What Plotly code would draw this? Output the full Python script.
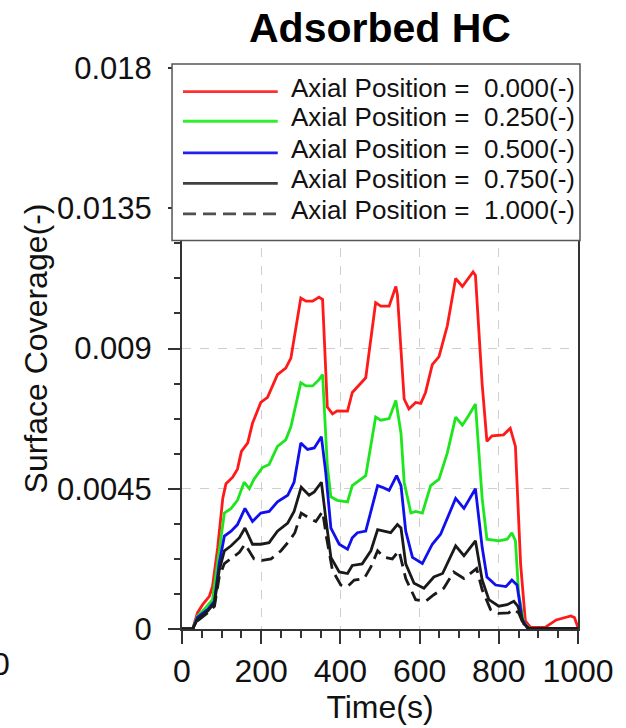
import plotly.graph_objects as go

# ---------------- data ----------------
t_red = [0, 27, 39, 52, 69, 77, 90, 103, 111, 128, 140, 150, 166, 178, 199, 216, 241, 262, 275,
         300, 313, 330, 346, 355, 367, 380, 392, 418, 430, 447, 464, 489, 502, 523, 540, 544,
         561, 573, 590, 603, 615, 632, 649, 670, 691, 708, 724, 735, 741, 758, 770, 783, 812,
         829, 842, 855, 867, 880, 917, 945, 982, 991, 1000]
v_red = [0, 0, 0.00052, 0.00078, 0.00105, 0.00136, 0.0026, 0.0042, 0.00466, 0.00487, 0.00513,
         0.0057, 0.00597, 0.0066, 0.00727, 0.00743, 0.00816, 0.00837, 0.00869, 0.01062, 0.01052,
         0.01052, 0.01065, 0.01057, 0.00712, 0.0069, 0.0070, 0.00699, 0.00759, 0.00783, 0.00806,
         0.01047, 0.01036, 0.01036, 0.01099, 0.01073, 0.00738, 0.00706, 0.00727, 0.00724,
         0.00759, 0.00848, 0.00874, 0.00973, 0.01125, 0.01099, 0.01125, 0.01146, 0.01135,
         0.00785, 0.00602, 0.0062, 0.00623, 0.00644, 0.00586, 0.0021, 0.00026, 0.00005,
         0.00005, 0.00029, 0.00042, 0.00037, 0.00005]

t_green = [0, 27, 39, 56, 77, 94, 107, 124, 140, 157, 170, 182, 203, 220, 241, 262, 275, 300,
           313, 330, 346, 355, 367, 376, 392, 418, 430, 447, 464, 489, 502, 523, 540, 553, 561,
           578, 590, 607, 628, 649, 670, 691, 708, 724, 741, 758, 770, 800, 821, 833, 842, 850,
           863, 876, 1000]
v_green = [0, 0, 0.00042, 0.00063, 0.00094, 0.0026, 0.00372, 0.00387, 0.00413, 0.00471, 0.0045,
           0.00481, 0.00518, 0.00528, 0.00586, 0.00607, 0.00649, 0.0079, 0.0078, 0.0078, 0.0080,
           0.00816, 0.00523, 0.00424, 0.00413, 0.00408, 0.0046, 0.00476, 0.00492, 0.0068,
           0.0067, 0.00675, 0.00733, 0.00628, 0.00471, 0.00372, 0.00377, 0.00372, 0.0046,
           0.00481, 0.00565, 0.0068, 0.00654, 0.00685, 0.00722, 0.00419, 0.00288, 0.00283,
           0.00288, 0.00309, 0.00283, 0.00115, 0.00021, 0.00003, 0.00001]

t_blue = [0, 27, 39, 65, 82, 94, 107, 124, 140, 159, 178, 199, 220, 241, 267, 283, 300, 317,
          334, 352, 363, 376, 397, 418, 430, 443, 464, 477, 494, 506, 523, 542, 553, 565, 582,
          607, 632, 653, 691, 712, 741, 758, 770, 792, 818, 833, 846, 859, 872, 1000]
v_blue = [0, 0, 0.00037, 0.00063, 0.00089, 0.0021, 0.00298, 0.00314, 0.00335, 0.00387, 0.00345,
          0.00372, 0.00377, 0.00408, 0.00429, 0.00471, 0.00597, 0.00576, 0.00581, 0.00617,
          0.00502, 0.00324, 0.00272, 0.00256, 0.00293, 0.00309, 0.00314, 0.00377, 0.0046,
          0.00455, 0.00445, 0.00492, 0.0046, 0.00314, 0.0023, 0.0021, 0.00272, 0.00304,
          0.00419, 0.00387, 0.0045, 0.00262, 0.00167, 0.00141, 0.00136, 0.00157, 0.00141,
          0.00031, 0.00003, 0.00001]

t_black = [0, 27, 39, 65, 82, 94, 107, 124, 145, 159, 178, 199, 220, 241, 267, 283, 301, 321,
           334, 352, 363, 376, 397, 418, 430, 455, 477, 494, 510, 527, 544, 553, 565, 586, 611,
           636, 658, 691, 712, 741, 758, 775, 800, 821, 838, 848, 863, 876, 1000]
v_black = [0, 0, 0.00031, 0.00058, 0.00084, 0.00188, 0.00251, 0.00267, 0.00293, 0.00324,
           0.00272, 0.00272, 0.00277, 0.00314, 0.0034, 0.00377, 0.00455, 0.00429, 0.0044,
           0.00471, 0.00356, 0.0023, 0.00183, 0.00178, 0.00204, 0.00209, 0.00251, 0.00319,
           0.00314, 0.00309, 0.00335, 0.00324, 0.00209, 0.00147, 0.00131, 0.00167, 0.00178,
           0.00267, 0.00235, 0.00283, 0.00157, 0.00094, 0.00073, 0.00078, 0.00089, 0.00073,
           0.00016, 0.00003, 0.00001]

t_dash = [0, 27, 39, 65, 82, 94, 107, 124, 145, 159, 182, 203, 225, 250, 271, 285, 301, 321,
          338, 355, 365, 380, 401, 418, 435, 460, 477, 494, 510, 531, 548, 565, 590, 615, 636,
          661, 686, 712, 744, 758, 779, 800, 825, 838, 850, 863, 876, 1000]
v_dash = [0, 0, 0.00026, 0.00052, 0.00073, 0.00167, 0.0021, 0.00225, 0.00246, 0.00272, 0.00225,
          0.0022, 0.00225, 0.00251, 0.00283, 0.00309, 0.00372, 0.00356, 0.00345, 0.00377,
          0.00293, 0.00188, 0.00141, 0.00136, 0.00157, 0.00162, 0.00199, 0.00251, 0.0023,
          0.00225, 0.00251, 0.00162, 0.00094, 0.00089, 0.0011, 0.00131, 0.00183, 0.00162,
          0.00194, 0.00126, 0.00063, 0.0005, 0.00052, 0.00063, 0.00052, 0.00013, 0.00002,
          0.00001]

series_names = ["Axial Position = \u00a00.000(-)", "Axial Position = \u00a00.250(-)",
                "Axial Position = \u00a00.500(-)", "Axial Position = \u00a00.750(-)",
                "Axial Position = \u00a01.000(-)"]
series_t = [t_red, t_green, t_blue, t_black, t_dash]
series_v = [v_red, v_green, v_blue, v_black, v_dash]
series_colors = ["#ff1a1a", "#1ee61e", "#1010ee", "#1a1a1a", "#1a1a1a"]
series_dash = ["solid", "solid", "solid", "solid", "13px,7px"]

y_tickvals = [0, 0.0045, 0.009, 0.0135, 0.018]
y_ticktext = ["0", "0.0045", "0.009", "0.0135", "0.018"]
x_tickvals = [0, 200, 400, 600, 800, 1000]

FONT = "Liberation Sans, Arial, Helvetica, sans-serif"

# ---------------- figure ----------------
fig = go.Figure()
for name, t, v, c, d in zip(series_names, series_t, series_v, series_colors, series_dash):
    fig.add_trace(go.Scatter(x=t, y=v, mode="lines", name=name,
                             line=dict(color=c, width=2.8, dash=d), showlegend=False))

W, H = 626, 728
ml, mr, mt, mb = 182, 47, 68, 91
pw, ph = W - ml - mr, H - mt - mb


def px(xpix):
    return (xpix - ml) / pw


def py(ypix):
    return (H - mb - ypix) / ph


fig.update_layout(
    width=W, height=H,
    margin=dict(l=ml, r=mr, t=mt, b=mb),
    paper_bgcolor="white", plot_bgcolor="white",
    font=dict(family=FONT, color="#111", size=31),
    title=dict(text="<b>Adsorbed HC</b>", x=0.5, xref="paper", xanchor="center",
               y=1 - 28 / H, yanchor="middle", font=dict(size=41, color="#000")),
    showlegend=False,
)

fig.update_xaxes(
    range=[0, 1000], tickvals=x_tickvals, ticks="outside", ticklen=13, tickwidth=1.5,
    tickcolor="#333", showline=True, linecolor="#333", linewidth=2, mirror=True,
    showgrid=True, gridcolor="#cfcfcf", griddash="dash", gridwidth=1, zeroline=False,
    minor=dict(dtick=50, ticks="outside", ticklen=7, tickcolor="#333", showgrid=False),
    tickfont=dict(size=32), title=dict(text="Time(s)", font=dict(size=32), standoff=4),
)
fig.update_yaxes(
    range=[0, 0.018], tickvals=y_tickvals, ticktext=y_ticktext, ticks="outside", ticklen=12,
    tickwidth=1.5, tickcolor="#333", showline=True, linecolor="#333", linewidth=2, mirror=True,
    showgrid=True, gridcolor="#cfcfcf", griddash="dash", gridwidth=1, zeroline=False,
    minor=dict(dtick=0.001125, ticks="outside", ticklen=6, tickcolor="#333", showgrid=False),
    tickfont=dict(size=31), ticklabelstandoff=10,
    title=dict(text="Surface Coverage(-)", font=dict(size=32), standoff=0),
)

# ---------------- legend box (drawn) ----------------
fig.add_shape(type="rect", xref="paper", yref="paper",
              x0=px(172), x1=px(581), y0=py(243), y1=py(64),
              fillcolor="white", line=dict(color="#555", width=1.5), layer="above")
text_rows = [88, 118, 150, 181, 212]
legend_line_colors = ["#ff3030", "#30ee30", "#2020f0", "#404040", "#505050"]
for name, c, d, row in zip(series_names, legend_line_colors, series_dash, text_rows):
    fig.add_shape(type="line", xref="paper", yref="paper",
                  x0=px(183), x1=px(278), y0=py(row + 4), y1=py(row + 4),
                  line=dict(color=c, width=2.8, dash=d), layer="above")
    fig.add_annotation(text=name, xref="paper", yref="paper", x=px(289), y=py(row),
                       xanchor="left", yanchor="middle", showarrow=False,
                       font=dict(size=26, color="#111"))

# ---------------- cropped neighbour-panel fragments ----------------
fig.add_annotation(text=")", xref="paper", yref="paper", x=px(3), y=py(30),
                   xanchor="right", yanchor="middle", showarrow=False,
                   font=dict(size=36, color="#999"))
fig.add_annotation(text="0", xref="paper", yref="paper", x=px(12), y=py(672),
                   xanchor="right", yanchor="middle", showarrow=False,
                   font=dict(size=32, color="#111"))

fig.write_html("out.html")
